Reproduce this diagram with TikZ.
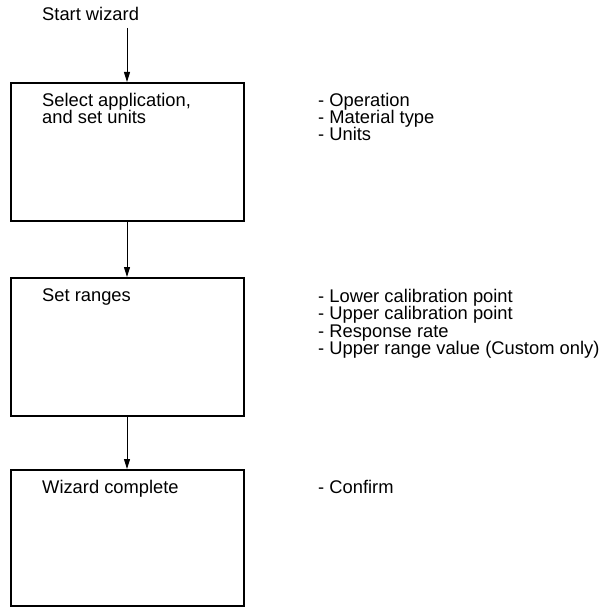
\documentclass[tikz,border=0pt]{standalone}
\usepackage{fontspec}
\setmainfont{Liberation Sans}
\usetikzlibrary{arrows.meta}
\begin{document}
\begin{tikzpicture}[x=1bp,y=-1bp,
  txt/.style={inner sep=0pt,anchor=base west,align=left,font=\fontsize{18.4}{17.5}\selectfont},
  stepbox/.style={draw,line width=1.8bp,minimum width=233bp,minimum height=138bp,inner sep=0pt,anchor=north west},
  flow/.style={line width=1bp,-{Triangle[length=10bp,width=6bp]}}]
\useasboundingbox (0,0) rectangle (604,608);
\node[txt] (start) at (42,21) {Start wizard};
\coordinate (startend) at (127,28);
\node[stepbox] (b1) at (10,82) {};
\node[stepbox,minimum height=138bp] (b2) at (10,277) {};
\node[stepbox,minimum height=136bp] (b3) at (10,469) {};
% base anchor of a multi-line node is the baseline of its last line
\node[txt] (t1) at (42,123.5) {Select application,\\and set units};
\node[txt] (t2) at (42,301) {Set ranges};
\node[txt] (t3) at (42,493) {Wizard complete};
\node[txt] (l1) at (318,141) {- Operation\\- Material type\\- Units};
\node[txt] (l2) at (318,354.5) {- Lower calibration point\\- Upper calibration point\\- Response rate\\- Upper range value (Custom only)};
\node[txt] (l3) at (318,493) {- Confirm};
\draw[flow] (startend) -- (startend |- b1.north);
\draw[flow] (b1.south -| startend) -- (b2.north -| startend);
\draw[flow] (b2.south -| startend) -- (b3.north -| startend);
\end{tikzpicture}
\end{document}
